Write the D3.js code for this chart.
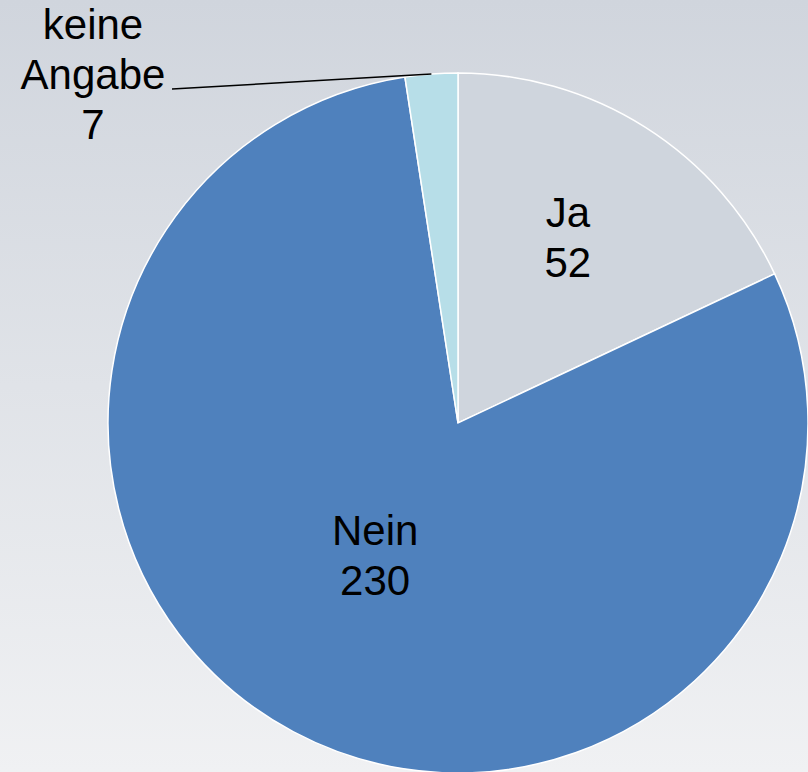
<!DOCTYPE html>
<html>
<head>
<meta charset="utf-8">
<script src="https://cdn.jsdelivr.net/npm/d3@7"></script>
<style>
  html, body { margin: 0; padding: 0; }
  body { width: 808px; height: 772px; overflow: hidden; }
</style>
</head>
<body>
<div class="chart_area"></div>
<script>
const categories = ['Ja', 'Nein', 'keine Angabe']
const values = [52, 230, 7]
const colors = ['#cfd5dd', '#4f81bd', '#b7dee8']

const width = 808
const height = 772
const cx = 458
const cy = 423
const radius = 350

const svg = d3.select('.chart_area')
  .append('svg')
  .attr('width', width)
  .attr('height', height)

// background gradient
const grad = svg.append('defs')
  .append('linearGradient')
  .attr('id', 'bg')
  .attr('x1', 0).attr('y1', 0)
  .attr('x2', 0).attr('y2', 1)
grad.append('stop').attr('offset', '0%').attr('stop-color', '#d0d5dd')
grad.append('stop').attr('offset', '100%').attr('stop-color', '#f0f1f3')

svg.append('rect')
  .attr('width', width)
  .attr('height', height)
  .attr('fill', 'url(#bg)')

const pie = d3.pie().sort(null).value(d => d)
const arcs = pie(values)

const arc = d3.arc().innerRadius(0).outerRadius(radius)

const g = svg.append('g')
  .attr('transform', `translate(${cx}, ${cy})`)

g.selectAll('path')
  .data(arcs)
  .enter()
  .append('path')
  .attr('d', arc)
  .attr('fill', (d, i) => colors[i])
  .attr('stroke', '#ffffff')
  .attr('stroke-width', 1.5)

// inside label placement: fraction of radius and angle nudge (degrees)
const labelR = [0.617, 0.444]
const labelNudge = [-1.8, 4.2]
const fontSize = 42
const lineH = 50

function drawLabel(x, y, lines) {
  const t = g.append('text')
    .attr('text-anchor', 'middle')
    .attr('font-family', "'Liberation Sans', Arial, sans-serif")
    .attr('font-size', fontSize)
    .attr('fill', '#000')
  const top = y - (lines.length - 1) * lineH / 2 + fontSize * 0.36
  lines.forEach((s, k) => {
    t.append('tspan')
      .attr('x', x)
      .attr('y', top + k * lineH)
      .text(s)
  })
}

arcs.forEach((d, i) => {
  if (i < 2) {
    const a = (d.startAngle + d.endAngle) / 2 + labelNudge[i] * Math.PI / 180
    const r = radius * labelR[i]
    drawLabel(Math.sin(a) * r, -Math.cos(a) * r, [categories[i], String(values[i])])
  }
})

// outside label with leader line for the small slice
const small = arcs[2]
const mid = (small.startAngle + small.endAngle) / 2
const edge = [Math.sin(mid) * radius, -Math.cos(mid) * radius]
const lbl = [93 - cx, 74 - cy]
g.append('line')
  .attr('x1', lbl[0] + 79).attr('y1', 89 - cy)
  .attr('x2', edge[0]).attr('y2', edge[1])
  .attr('stroke', '#000')
  .attr('stroke-width', 1.5)
drawLabel(lbl[0], lbl[1], ['keine', 'Angabe', String(values[2])])
</script>
</body>
</html>
